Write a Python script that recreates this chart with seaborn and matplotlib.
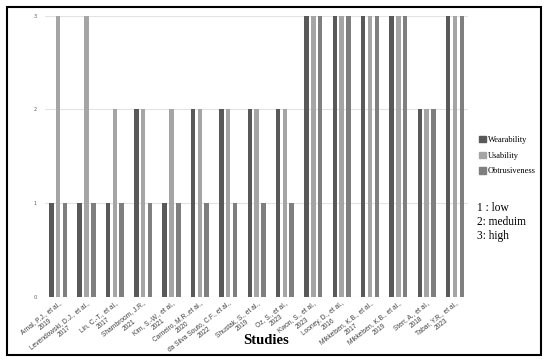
import matplotlib
matplotlib.use("Agg")
import matplotlib.pyplot as plt
import seaborn as sns
import pandas as pd
from matplotlib.patches import Rectangle

studies = [
    "Arnal, P.J., et al.,\n2019",
    "Levendowski, D.J., et al.,\n2017",
    "Lin, C.-T., et al.,\n2017",
    "Shambroom, J.R.,\n2021",
    "Kim, S.-W., et al.,\n2021",
    "Carneiro, M.R.,et al.,\n2020",
    "da Silva Souto, C.F., et al.,\n2022",
    "Shustak, S., et al.,\n2019",
    "Oz, S., et al.,\n2023",
    "Kwon, S., et al.,\n2023",
    "Looney, D., et al.,\n2016",
    "Mikkelsen, K.B., et al.,\n2017",
    "Mikkelsen, K.B., et al.,\n2019",
    "Sterr, A., et al.,\n2018",
    "Tabar, Y.R., et al.,\n2023",
]
wearability = [1, 1, 1, 2, 1, 2, 2, 2, 2, 3, 3, 3, 3, 2, 3]
usability = [3, 3, 2, 2, 2, 2, 2, 2, 2, 3, 3, 3, 3, 2, 3]
obtrusiveness = [1, 1, 1, 1, 1, 1, 1, 1, 1, 3, 3, 3, 3, 2, 3]
criteria = ["Wearability", "Usability", "Obtrusiveness"]
colors = ["#595959", "#a5a5a5", "#7f7f7f"]

df = pd.DataFrame({"Study": studies, "Wearability": wearability,
                   "Usability": usability, "Obtrusiveness": obtrusiveness})
long = df.melt(id_vars="Study", var_name="Criterion", value_name="Score")

fig = plt.figure(figsize=(5.5, 3.62), dpi=100)
ax = fig.add_axes([0.082, 0.18, 0.769, 0.777])

sns.barplot(data=long, x="Study", y="Score", hue="Criterion", hue_order=criteria,
            palette=colors, width=0.72, ax=ax, legend=False)

# thin bars with gaps, as in the original
for p in ax.patches:
    cx = p.get_x() + p.get_width() / 2
    p.set_width(0.16)
    p.set_x(cx - 0.08)
    p.set_linewidth(0)

ax.set_xlim(-0.46, 14.46)
ax.set_ylim(0, 3)
ax.set_yticks([0, 1, 2, 3])
ax.set_yticklabels(["0", "1", "2", "3"], fontsize=3.5, color="#595959")
ax.tick_params(axis="both", length=0, pad=6)
ax.set_xticks(range(len(studies)))
ax.set_xticklabels(studies, rotation=38, ha="right", va="top", rotation_mode="anchor",
                   multialignment="center", fontsize=4.8, color="#404040",
                   family="Liberation Sans")
ax.tick_params(axis="x", pad=2)
ax.grid(axis="y", color="#e3e3e3", linewidth=0.8)
ax.set_axisbelow(True)
for s in ax.spines.values():
    s.set_visible(False)
ax.set_xlabel("")
ax.set_ylabel("")

fig.text(0.484, 0.06, "Studies", fontsize=10.5, fontweight="bold",
         family="Liberation Serif", ha="center", va="center")

handles = [Rectangle((0, 0), 1, 1, color=c) for c in colors]
fig.legend(handles, criteria, loc="center left", bbox_to_anchor=(0.857, 0.57),
           frameon=False, prop={"family": "Liberation Serif", "size": 6},
           handlelength=0.8, handleheight=0.8, handletextpad=0.3, labelspacing=0.9)

fig.text(0.868, 0.442, "1 : low\n2: meduim\n3: high", fontsize=8.3,
         family="Liberation Serif", ha="left", va="top", linespacing=1.25)

fig.patches.append(Rectangle((7 / 550, 7 / 362), 534 / 550, 348 / 362,
                             transform=fig.transFigure, fill=False,
                             edgecolor="black", linewidth=1.5))

fig.savefig("out.png", dpi=100)
